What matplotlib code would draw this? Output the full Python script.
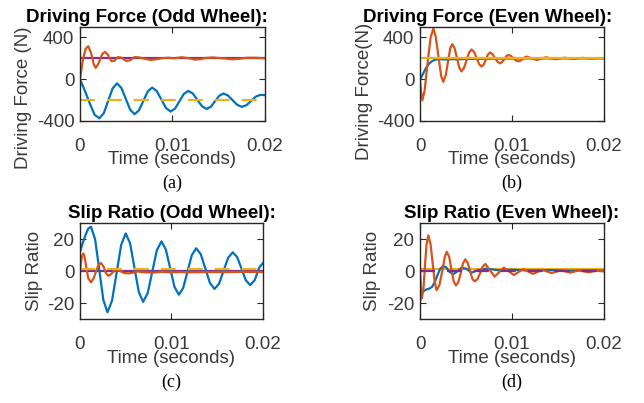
import matplotlib
matplotlib.use("Agg")
import matplotlib.pyplot as plt

plt.rcParams['font.family'] = ['Liberation Sans', 'DejaVu Sans']
plt.rcParams['lines.scale_dashes'] = False

# MATLAB default line colours
col_blue = '#0072BD'
col_orange = '#D95319'
col_yellow = '#EDB120'
col_purple = '#7E2F8E'

t_span = [0, 0.02]
x_ticks = [0, 0.01, 0.02]
x_ticklabels = ['0', '0.01', '0.02']

# (a) driving force, odd wheel
a_blue_t = [0, 0.000525, 0.00105, 0.001575, 0.0021, 0.002575, 0.00305, 0.003525, 0.0040,
            0.004475, 0.00495, 0.005425, 0.0059, 0.006375, 0.00685, 0.007325, 0.0078,
            0.0083, 0.0088, 0.0093, 0.0098, 0.010275, 0.01075, 0.011225, 0.0117,
            0.0122, 0.0127, 0.0132, 0.0137, 0.01415, 0.0146, 0.01505, 0.0155,
            0.016, 0.0165, 0.017, 0.0175, 0.018, 0.0185, 0.019, 0.0195, 0.02]
a_blue_v = [0, -110, -230, -340, -374, -325, -207, -89, -40,
            -83, -188, -292, -335, -298, -208, -117, -80,
            -114, -195, -276, -310, -281, -211, -141, -112,
            -137, -199, -260, -285, -263, -211, -159, -137,
            -156, -201, -246, -265, -248, -208, -167, -150, -152]
a_orange_t = [0, 0.0003, 0.0006, 0.0009, 0.0012, 0.0015, 0.0017, 0.0020, 0.0024, 0.0027,
              0.0030, 0.0034, 0.0037, 0.0041, 0.0045, 0.0050, 0.0054, 0.0059, 0.0064,
              0.0070, 0.0076, 0.0082, 0.0088, 0.0095, 0.0102, 0.0110, 0.0118, 0.0124,
              0.0130, 0.0136, 0.0143, 0.0150, 0.0158, 0.0165, 0.0172, 0.0180, 0.0190, 0.0200]
a_orange_v = [0, 180, 290, 315, 250, 140, 108, 150, 240, 262,
              235, 172, 175, 212, 205, 175, 180, 212, 208,
              195, 185, 190, 200, 205, 200, 210, 200, 188,
              192, 203, 208, 203, 197, 190, 195, 205, 205, 200]
a_yellow = -200
a_purple = 200

# (b) driving force, even wheel
b_blue_t = [0, 0.0002, 0.0004, 0.0007, 0.0010, 0.0013, 0.0016, 0.0020, 0.0025, 0.0030,
            0.0035, 0.0040, 0.0050, 0.0060, 0.0080, 0.0100, 0.0120, 0.0200]
b_blue_v = [0, 30, 65, 115, 150, 172, 185, 192, 190, 188,
            192, 190, 193, 195, 197, 198, 199, 200]
b_orange_t = [0, 0.0001, 0.00025, 0.0005, 0.0008, 0.00115, 0.00145, 0.0017, 0.0020, 0.0023,
              0.00253, 0.0028, 0.0031, 0.0033, 0.0035, 0.00375, 0.0040, 0.00425, 0.0045,
              0.004775, 0.00505, 0.005325, 0.0056, 0.005875, 0.00615, 0.006425, 0.0067,
              0.006925, 0.00715, 0.007375, 0.0076, 0.007875, 0.00815, 0.008425, 0.0087,
              0.008925, 0.00915, 0.009375, 0.0096, 0.009875, 0.01015, 0.010425, 0.0107,
              0.010925, 0.01115, 0.011375, 0.0116, 0.01215, 0.0127, 0.0132, 0.0137,
              0.0142, 0.0147, 0.0152, 0.0157, 0.0162, 0.0167, 0.0172, 0.0177, 0.0182,
              0.0187, 0.0192, 0.0197, 0.0200]
b_orange_v = [0, -110, -202, -110, 140, 400, 484, 410, 220, 30,
              -25, 40, 200, 300, 335, 300, 210, 115, 75,
              106, 180, 254, 285, 261, 202, 144, 120,
              140, 188, 235, 255, 240, 204, 167, 152,
              164, 192, 220, 232, 223, 201, 179, 170,
              177, 193, 209, 216, 200, 184, 197, 210,
              200, 191, 198, 206, 200, 195, 200, 204, 200,
              197, 200, 202, 201]
b_yellow = 200

# (c) slip ratio, odd wheel
c_blue_t = [0, 0.0003, 0.0006, 0.0009, 0.0012, 0.00165, 0.0021, 0.00255, 0.0030,
            0.0035, 0.004, 0.0045, 0.005, 0.005475, 0.00595, 0.006425, 0.0069,
            0.0074, 0.0079, 0.0084, 0.0089, 0.009375, 0.00985, 0.010325, 0.0108,
            0.011275, 0.01175, 0.012225, 0.0127, 0.0132, 0.0137, 0.0142, 0.0147,
            0.0152, 0.0157, 0.0162, 0.0167, 0.017175, 0.01765, 0.018125, 0.0186,
            0.0191, 0.0196, 0.02]
c_blue_v = [12, 17.5, 22.5, 26.5, 27.7, 19.9, 1.0, -18.0, -25.8,
            -18.6, -1.2, 16.3, 23.5, 17.3, 2.1, -13.1, -19.3,
            -13.8, -0.4, 13.0, 18.5, 13.6, 1.9, -9.9, -14.8,
            -10.6, -0.3, 10.0, 14.2, 10.5, 1.5, -7.5, -11.2,
            -7.9, 0.3, 8.4, 11.7, 8.7, 1.5, -5.8, -8.8,
            -5.6, 2.3, 5.0]
c_orange_t = [0, 0.0001, 0.0002, 0.00036, 0.0005, 0.0007, 0.0009, 0.0012, 0.0015, 0.0018,
              0.0020, 0.0023, 0.0026, 0.0028, 0.0031, 0.0034, 0.0037, 0.0040, 0.0044,
              0.0048, 0.0053, 0.0058, 0.0063, 0.0070, 0.0080, 0.0090, 0.0100, 0.0110,
              0.0120, 0.0140, 0.0160, 0.0180, 0.0200]
c_orange_v = [0, 5, 9, 11, 9, 2, -4.5, -7, -4.5, 0.5,
              3.5, 5, 2.5, -1, -3, -2, 0, 0.8, 0,
              -1.2, -1.5, -1, -0.3, -0.8, -1, -0.5, -0.8, -0.6,
              -0.8, -0.6, -0.7, -0.5, -0.6]
c_yellow = 1.2
c_purple = 0

# (d) slip ratio, even wheel
d_blue_t = [0, 0.0002, 0.0004, 0.0007, 0.0010, 0.0013, 0.0016, 0.0019, 0.0022, 0.0025,
            0.0028, 0.0032, 0.0036, 0.0040, 0.0045, 0.0050, 0.0056, 0.0063, 0.0072,
            0.0085, 0.0100, 0.0120, 0.0140, 0.0160, 0.0180, 0.0200]
d_blue_v = [-19, -14, -12.5, -11.5, -11, -10, -7, -2.5, 1.5, 3,
            2.5, -0.5, -2, -0.5, 2, 1.5, -1, 0.5, 1.5,
            0.5, 0.8, 0.3, 0.6, 0.2, 0.4, 0.3]
d_orange_t = [0, 0.0001, 0.0002, 0.00037, 0.00053, 0.0007, 0.0009, 0.00115, 0.0014, 0.0016,
              0.0018, 0.0021, 0.0024, 0.0027, 0.0029, 0.003175, 0.00342, 0.003665,
              0.00391, 0.004163, 0.004415, 0.004668, 0.00492, 0.005178, 0.005435, 0.005693,
              0.00595, 0.00624, 0.00653, 0.00681, 0.0071, 0.00761, 0.00812, 0.00861,
              0.0091, 0.00965, 0.0102, 0.0112, 0.0123, 0.0133, 0.0143, 0.0153, 0.0163,
              0.0173, 0.0183, 0.0193, 0.0200]
d_orange_v = [0, -10, -17, -11.3, 2.5, 16.3, 22.3, 16.6, 3.5, -7,
              -12, -9, -0.5, 9, 12, 8.8, 0.65, -6.5,
              -9, -7, -1.5, 4.7, 7.3, 5.2, 0.1, -5.0,
              -6.5, -5, -1.35, 2.7, 4.4, 0.45, -3.5, -0.7,
              2.1, -0.2, -2.5, 1.2, -1.8, 0.8, -1.3, 0.5, -1.0,
              0.4, -0.8, 0.3, -0.3]
d_yellow = 1.4
d_purple = 0

fig = plt.figure(figsize=(6.44, 4.03), dpi=100)

ax_a = fig.add_axes([0.1242, 0.6998, 0.2873, 0.2333])
ax_b = fig.add_axes([0.6522, 0.6998, 0.2857, 0.2333])
ax_c = fig.add_axes([0.1242, 0.2084, 0.2842, 0.2382])
ax_d = fig.add_axes([0.6522, 0.2084, 0.2857, 0.2382])

lw = 1.6
dash = (10.8, 8.6)

ax_a.plot(t_span, [a_purple] * 2, color=col_purple, lw=lw)
ax_a.plot(a_blue_t, a_blue_v, color=col_blue, lw=lw)
ax_a.plot(a_orange_t, a_orange_v, color=col_orange, lw=lw)
ax_a.plot(t_span, [a_yellow] * 2, color=col_yellow, lw=lw, dashes=dash)

ax_b.plot(b_blue_t, b_blue_v, color=col_blue, lw=lw)
ax_b.plot(b_orange_t, b_orange_v, color=col_orange, lw=lw)
ax_b.plot(t_span, [b_yellow] * 2, color=col_yellow, lw=lw)

ax_c.plot(t_span, [c_purple] * 2, color=col_purple, lw=lw)
ax_c.plot(c_blue_t, c_blue_v, color=col_blue, lw=lw)
ax_c.plot(c_orange_t, c_orange_v, color=col_orange, lw=lw)
ax_c.plot(t_span, [c_yellow] * 2, color=col_yellow, lw=lw, dashes=dash)

ax_d.plot(t_span, [d_yellow] * 2, color=col_yellow, lw=lw)
ax_d.plot(d_blue_t, d_blue_v, color=col_blue, lw=lw)
ax_d.plot(d_orange_t, d_orange_v, color=col_orange, lw=lw)
ax_d.plot(t_span, [d_purple] * 2, color=col_purple, lw=lw, dashes=dash)

fs = 13.5
tick_col = '#3a3a3a'

setup = [
    (ax_a, (-400, 500), [-400, 0, 400], 'Driving Force (Odd Wheel):', 0.362, 'Driving Force (N)', -0.26, 0.245, '(a)'),
    (ax_b, (-400, 500), [-400, 0, 400], 'Driving Force (Even Wheel):', 0.37, 'Driving Force(N)', -0.255, 0.31, '(b)'),
    (ax_c, (-30, 30), [-20, 0, 20], 'Slip Ratio (Odd Wheel):', 0.5, 'Slip Ratio', -0.20, 0.5, '(c)'),
    (ax_d, (-30, 30), [-20, 0, 20], 'Slip Ratio (Even Wheel):', 0.5, 'Slip Ratio', -0.21, 0.5, '(d)'),
]

for ax, ylim, yticks, title, tx, ylab, lx, ly, cap in setup:
    ax.set_xlim(t_span)
    ax.set_ylim(ylim)
    ax.set_xticks(x_ticks)
    ax.set_xticklabels(x_ticklabels)
    ax.set_yticks(yticks)
    ax.set_yticklabels([str(v) for v in yticks])
    ax.tick_params(direction='in', length=4, width=0.8, top=True, right=True,
                   labelsize=fs, labelcolor=tick_col, color='#262626')
    ax.tick_params(axis='x', pad=12)
    ax.tick_params(axis='y', pad=4)
    for s in ax.spines.values():
        s.set_color('#262626')
        s.set_linewidth(1.0)
    ax.text(tx, 1.053, title, transform=ax.transAxes, ha='center', va='baseline',
            fontsize=fs, fontweight='bold', color='black')
    ax.set_xlabel('Time (seconds)', fontsize=fs, color=tick_col)
    ax.xaxis.set_label_coords(0.5, -0.32)
    ax.set_ylabel(ylab, fontsize=fs, color=tick_col)
    ax.yaxis.set_label_coords(lx, ly)
    ax.text(0.5, -0.66, cap, transform=ax.transAxes, ha='center', va='center',
            fontsize=13, family='Liberation Serif', color='black')

fig.savefig('out.png', dpi=100)
